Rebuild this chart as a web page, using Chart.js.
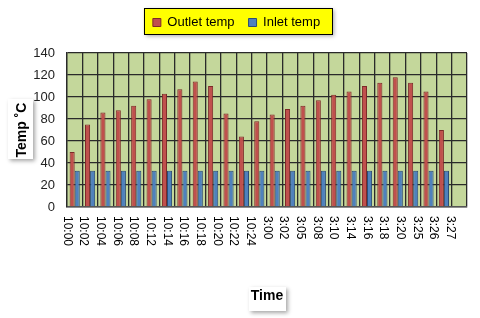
<!DOCTYPE html>
<html>
<head>
<meta charset="utf-8">
<script src="https://cdn.jsdelivr.net/npm/chart.js@4.4.1/dist/chart.umd.min.js"></script>
<style>
  html, body { margin: 0; padding: 0; background: #ffffff; }
  #wrap { width: 480px; height: 318px; }
</style>
</head>
<body>
<div id="wrap"><canvas id="chart"></canvas></div>
<script>
// time labels as printed under the axis (24 of them)
const timeLabels = ['10:00', '10:02', '10:04', '10:06', '10:08', '10:12', '10:14', '10:16',
  '10:18', '10:20', '10:22', '10:24', '3:00', '3:02', '3:05', '3:08', '3:10', '3:14',
  '3:16', '3:18', '3:20', '3:25', '3:26', '3:27'];

// bar slots on the category axis (25 pairs of bars + one empty slot)
const outletTemp = [50, 75, 86, 88, 92, 98, 103, 107, 114, 110, 85, 64, 78,
  84, 89, 92, 97, 102, 105, 110, 113, 118, 113, 105, 70, null];
const inletTemp = [33, 33, 33, 33, 33, 33, 33, 33, 33, 33, 33, 33, 33,
  33, 33, 33, 33, 33, 33, 33, 33, 33, 33, 33, 33, null];
const slotLabels = outletTemp.map((v, i) => String(i + 1));

const yTicks = [0, 20, 40, 60, 80, 100, 120, 140];

const fontFamily = "'Liberation Sans', Arial, sans-serif";

function shadowBox(ctx, x, y, w, h, fill, stroke) {
    ctx.save();
    ctx.shadowColor = 'rgba(0,0,0,0.35)';
    ctx.shadowBlur = 4;
    ctx.shadowOffsetX = 2;
    ctx.shadowOffsetY = 2;
    ctx.fillStyle = fill;
    ctx.fillRect(x, y, w, h);
    ctx.restore();
    if (stroke) {
        ctx.save();
        ctx.strokeStyle = stroke;
        ctx.lineWidth = 1;
        ctx.strokeRect(Math.round(x) + 0.5, Math.round(y) + 0.5, Math.round(w), Math.round(h));
        ctx.restore();
    }
}

// plot background, legend box and title boxes
const decorPlugin = {
    id: 'decor',
    beforeDraw(chart) {
        const ctx = chart.ctx;
        const area = chart.chartArea;
        ctx.save();
        ctx.fillStyle = '#c4d79b';
        ctx.fillRect(area.left, area.top, area.right - area.left, area.bottom - area.top);
        ctx.restore();

        // yellow legend box around the legend items
        const boxes = chart.legend.legendHitBoxes;
        if (boxes && boxes.length) {
            const first = boxes[0];
            const last = boxes[boxes.length - 1];
            const left = first.left - 9;
            const right = last.left + last.width + 12;
            const top = first.top - 8;
            const bottom = first.top + first.height + 5;
            shadowBox(ctx, left, top, right - left, bottom - top, '#ffff00', '#000000');
        }

        // white boxes behind axis titles
        const x = chart.scales.x;
        const y = chart.scales.y;
        const cx = (x.left + x.right) / 2;
        shadowBox(ctx, cx - 18, x.bottom - 27, 37, 24, '#ffffff');
        const cy = (y.top + y.bottom) / 2;
        shadowBox(ctx, y.left + 2, cy - 31, 25, 60, '#ffffff');
    },
    afterDraw(chart) {
        // rotated time labels, reading top to bottom
        const ctx = chart.ctx;
        const x2 = chart.scales.x2;
        const top = chart.chartArea.bottom + 9;
        ctx.save();
        ctx.fillStyle = '#000000';
        ctx.font = '12px ' + fontFamily;
        ctx.textAlign = 'left';
        ctx.textBaseline = 'middle';
        timeLabels.forEach((label, i) => {
            const px = x2.getPixelForValue(i);
            ctx.save();
            ctx.translate(px, top);
            ctx.rotate(Math.PI / 2);
            ctx.fillText(label, 0, 0);
            ctx.restore();
        });
        ctx.restore();
    }
};

const ctx = document.getElementById('chart').getContext('2d');
new Chart(ctx, {
    type: 'bar',
    data: {
        labels: slotLabels,
        datasets: [{
            label: 'Outlet temp',
            data: outletTemp,
            xAxisID: 'x',
            backgroundColor: '#c0504d',
            borderColor: '#7d2a28',
            borderWidth: 1
        }, {
            label: 'Inlet temp',
            data: inletTemp,
            xAxisID: 'x',
            backgroundColor: '#4f81bd',
            borderColor: '#2b4d77',
            borderWidth: 1
        }]
    },
    plugins: [decorPlugin],
    options: {
        responsive: true,
        maintainAspectRatio: false,
        animation: false,
        layout: {
            padding: { left: 6, right: 13, top: 2, bottom: 4 }
        },
        datasets: {
            bar: {
                categoryPercentage: 0.66,
                barPercentage: 1
            }
        },
        scales: {
            x: {
                type: 'category',
                grid: {
                    color: '#2a2a2a',
                    lineWidth: 1.3,
                    drawTicks: false
                },
                border: { color: '#555555', width: 1.5 },
                ticks: { display: false },
                title: {
                    display: true,
                    text: 'Time',
                    color: '#000000',
                    font: { family: fontFamily, size: 14, weight: 'bold' },
                    padding: { top: 0, bottom: 9 }
                },
                afterFit(scale) {
                    scale.height = 107;
                }
            },
            // helper axis for the printed time labels; also leaves room under the legend
            x2: {
                type: 'linear',
                position: 'top',
                offset: false,
                min: 0,
                max: timeLabels.length,
                grid: { display: false, drawTicks: false },
                border: { display: false },
                ticks: { display: false },
                afterFit(scale) {
                    scale.height = 14;
                }
            },
            y: {
                min: 0,
                max: 140,
                afterBuildTicks(scale) {
                    scale.ticks = yTicks.map(v => ({ value: v }));
                },
                grid: {
                    color: '#2a2a2a',
                    lineWidth: 1.3,
                    drawTicks: false
                },
                border: { color: '#2a2a2a', width: 1.3 },
                ticks: {
                    color: '#222222',
                    padding: 12,
                    font: { family: fontFamily, size: 13 }
                },
                title: {
                    display: true,
                    text: 'Temp ˚C',
                    color: '#000000',
                    font: { family: fontFamily, size: 14, weight: 'bold' },
                    padding: { top: 8, bottom: 0 }
                },
                afterFit(scale) {
                    scale.width = 61;
                }
            }
        },
        plugins: {
            tooltip: { enabled: false },
            legend: {
                position: 'top',
                labels: {
                    color: '#000000',
                    boxWidth: 8,
                    boxHeight: 8,
                    padding: 14,
                    font: { family: fontFamily, size: 13 }
                }
            }
        }
    }
});
</script>
</body>
</html>
